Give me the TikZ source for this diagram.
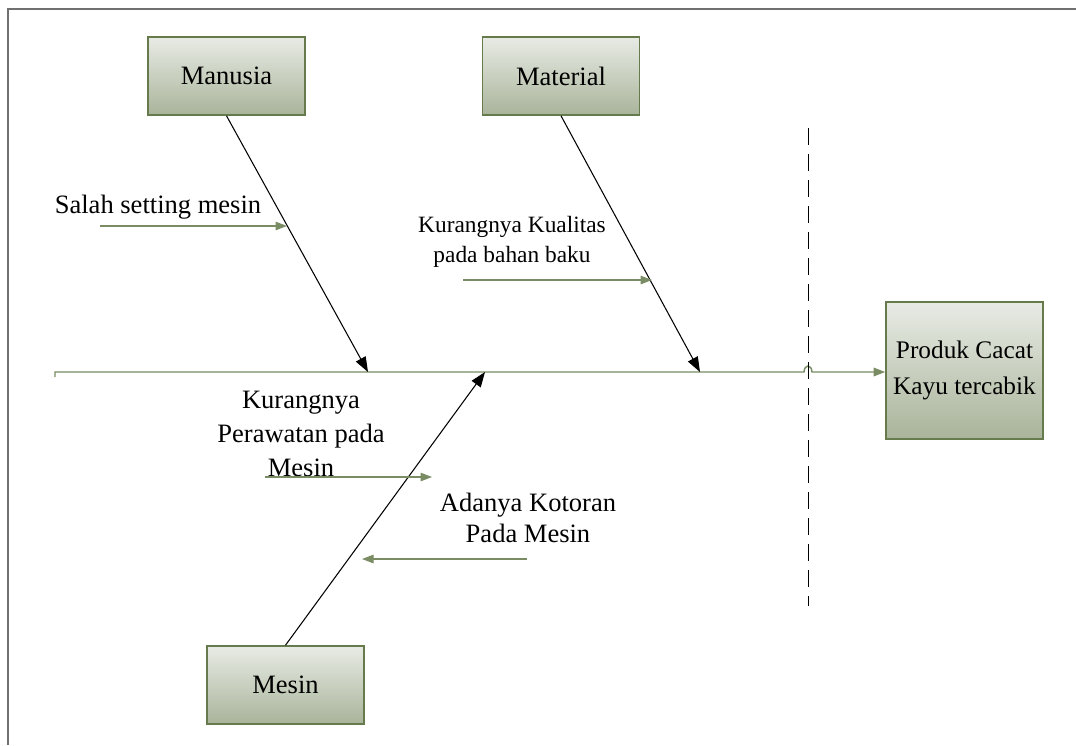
\documentclass[tikz,border=0pt]{standalone}
\usepackage{fontspec}
\setmainfont{Liberation Serif}
\usetikzlibrary{arrows.meta}

\definecolor{boxedge}{HTML}{667A4C}
\definecolor{boxtop}{HTML}{E8EBE5}
\definecolor{boxbottom}{HTML}{A9B49A}
\definecolor{bonegreen}{HTML}{7A8C63}
\definecolor{framegray}{HTML}{707070}

\begin{document}
\begin{tikzpicture}[x=0.2mm,y=-0.2mm]

\tikzset{
    catbox/.style={draw=boxedge, line width=0.9pt, top color=boxtop, bottom color=boxbottom,
        minimum width=31.4mm, minimum height=15.6mm, inner sep=0pt, font=\fontsize{15.1}{19.5}\selectfont},
    causetext/.style={align=center, inner sep=0pt, font=\fontsize{15.1}{19.5}\selectfont},
    bone/.style={line width=0.6pt, -{Triangle[length=3mm, width=2.2mm]}},
    subbone/.style={bonegreen, line width=0.7pt, -{Triangle[length=2.3mm, width=1.7mm]}}
}
\useasboundingbox (0,0) rectangle (1076,745);

% frame
\coordinate (fbl) at (8,745);
\coordinate (ftl) at (8,9);
\coordinate (ftr) at (1076,9);
\draw[framegray, line width=1pt] (fbl) -- (ftl) -- (ftr);

% categories and effect
\node[catbox] (manusia) at (226.5,76) {Manusia};
\node[catbox] (material) at (561,76) {Material};
\node[catbox] (mesin) at (285.5,685) {Mesin};
\node[catbox, minimum height=27.4mm, align=center, font=\fontsize{14.4}{20}\selectfont] (produk) at (964.5,370.5) {Produk Cacat\\Kayu tercabik};

% spine
\coordinate (tail) at (55,372);
\coordinate (jman) at (368,372);
\coordinate (jmat) at (700,372);
\coordinate (jmes) at (485,372);
\coordinate (hop) at (808,372);
\draw[bonegreen, line width=0.8pt, -{Triangle[length=2.3mm, width=1.7mm]}]
    ([yshift=-1mm]tail) -- (tail) -- ([xshift=-0.8mm]hop)
    .. controls +(0.1mm,1.6mm) and +(-0.1mm,1.6mm) .. ([xshift=0.8mm]hop) -- (tail -| produk.west);

% dashed boundary
\coordinate (dtop) at (808,128);
\coordinate (dbot) at (808,606);
\draw[line width=0.5pt, dash pattern=on 3.4mm off 1.8mm] (dtop) -- (dbot);

% main bones
\draw[bone] (manusia.south) -- (jman);
\draw[bone] (material.south) -- (jmat);
\draw[bone] (mesin.north) -- (jmes);

% causes
\node[causetext] (salah) at (158,207) {Salah setting mesin};
\coordinate (salah0) at (100,226);
\coordinate (salah1) at (287,226);
\draw[subbone] (salah0) -- (salah1);

\node[causetext, font=\fontsize{13.3}{17}\selectfont] (kualitas) at (512,242) {Kurangnya Kualitas\\pada bahan baku};
\coordinate (kual0) at (463,280);
\coordinate (kual1) at (652,280);
\draw[subbone] (kual0) -- (kual1);

\node[causetext] (rawat) at (301,434) {Kurangnya\\Perawatan pada\\Mesin};
\coordinate (rawat0) at (265,477);
\coordinate (rawat1) at (432,477);
\draw[subbone] (rawat0) -- (rawat1);

\node[causetext, font=\fontsize{15.1}{18}\selectfont] (kotor) at (528,518) {Adanya Kotoran\\Pada Mesin};
\coordinate (kotor0) at (527,559);
\coordinate (kotor1) at (362,559);
\draw[subbone] (kotor0) -- (kotor1);

\end{tikzpicture}
\end{document}
